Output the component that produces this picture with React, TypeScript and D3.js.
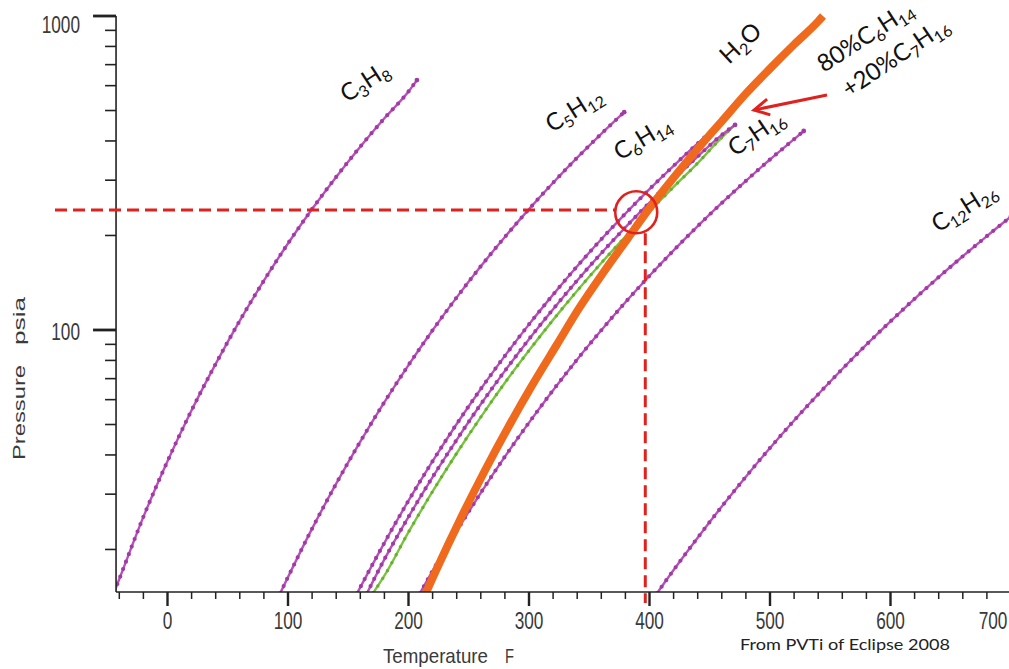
import React from 'react';
import * as d3 from 'd3';

const W = 1009;
const H = 669;

// ---- axis ticks ----
const tempMajorTicks = [0, 100, 200, 300, 400, 500, 600, 700];
const tempMinorTicks = [-40, -20, 20, 40, 60, 80, 120, 140, 160, 180, 220, 240, 260, 280, 320, 340, 360, 380, 420, 440, 460, 480, 520, 540, 560, 580, 620, 640, 660, 680];
const pressureMajorTicks = [100, 1000];
const pressureMinorTicks = [20, 30, 40, 50, 60, 70, 80, 90, 200, 300, 400, 500, 600, 700, 800, 900];

// ---- series: [Temperature F, Pressure psia] ----
const propane: [number, number][] = [
  [-44, 14.7], [-40, 16.1], [-20, 25.4], [0, 38.2], [20, 55.5], [40, 78.0], [60, 107.1], [80, 143.6],
  [100, 188.6], [120, 242.8], [140, 307.3], [160, 383.6], [180, 472.2], [200, 574.6], [207, 625],
];
const pentane: [number, number][] = [
  [93.5, 14.5], [120, 23.3], [140, 32.4], [160, 44.1], [180, 58.9], [200, 77.3], [220, 99.8], [240, 127],
  [260, 159.5], [280, 197.8], [300, 242.6], [320, 294.4], [340, 353.8], [360, 421.5], [379, 494],
];
const hexane: [number, number][] = [
  [157.3, 14.5], [180, 21.0], [200, 28.6], [220, 38.2], [240, 50.2], [260, 64.9], [280, 82.7], [300, 104.2],
  [320, 129.6], [340, 159.6], [360, 194.5], [380, 234.7], [400, 280.8], [420, 333.3], [440, 392.6], [453.7, 437],
];
const mixBubble: [number, number][] = [
  [165.5, 14.5], [180, 18.6], [200, 25.4], [220, 34.0], [240, 44.7], [260, 58.0], [280, 74.1], [300, 93.5],
  [320, 116.5], [340, 143.8], [360, 175.6], [380, 212.3], [400, 254.4], [420, 302.5], [440, 356.9], [460, 418.1], [471, 450],
];
const mixDew: [number, number][] = [
  [170.5, 14.5], [180, 16.5], [200, 22.7], [220, 30.6], [240, 40.5], [260, 52.8], [280, 67.9], [300, 86.0],
  [320, 107.7], [340, 133.4], [360, 163.5], [380, 198.3], [400, 238.5], [420, 285.5], [440, 340.0], [455, 392.0], [465, 428.0], [471, 450],
];
const heptane: [number, number][] = [
  [209.5, 14.5], [220, 17.1], [240, 22.9], [260, 30.3], [280, 39.5], [300, 50.7], [320, 64.3], [340, 80.6],
  [360, 99.8], [380, 122.5], [400, 148.8], [420, 179.2], [440, 214.1], [460, 253.8], [480, 298.6], [500, 349.1], [520, 405.3], [528, 430.2],
];
const dodecane: [number, number][] = [
  [406.2, 14.5], [420, 17.2], [440, 21.8], [460, 27.4], [480, 34.1], [500, 42.1], [520, 51.5], [540, 62.4],
  [560, 75.1], [580, 89.8], [600, 106.5], [620, 125.7], [640, 147.3], [660, 171.7], [680, 199.1], [700, 229.8],
];
const water: [number, number][] = [
  [213, 14.12], [215, 14.7], [223, 17.19], [243, 24.97], [263, 35.43], [283, 49.2], [303, 67.01], [323, 89.66],
  [342, 118.0], [362, 153.0], [382, 195.8], [401, 247.3], [421, 308.8], [441, 381.6], [461, 466.9], [480, 566.1],
  [500, 680.0], [520, 811.4], [540, 961.5], [544, 1000],
];

// annotation values
const crossT = 396.5;
const crossP = 241;
const circleT = 389;
const circleP = 237;

type Part = [string, boolean];
const labels: { parts: Part[]; x: number; y: number; a: number }[] = [
  { parts: [['C', false], ['3', true], ['H', false], ['8', true]], x: 347, y: 103, a: -33 },
  { parts: [['C', false], ['5', true], ['H', false], ['12', true]], x: 552, y: 133, a: -32 },
  { parts: [['C', false], ['6', true], ['H', false], ['14', true]], x: 620, y: 161, a: -31 },
  { parts: [['C', false], ['7', true], ['H', false], ['16', true]], x: 735, y: 157, a: -34 },
  { parts: [['H', false], ['2', true], ['O', false]], x: 729, y: 65, a: -43 },
  { parts: [['80%C', false], ['6', true], ['H', false], ['14', true]], x: 824, y: 73, a: -33 },
  { parts: [['+20%C', false], ['7', true], ['H', false], ['16', true]], x: 849, y: 98, a: -34 },
  { parts: [['C', false], ['12', true], ['H', false], ['26', true]], x: 938, y: 233, a: -32 },
];

const x = d3.scaleLinear().domain([0, 600]).range([167.5, 890.5]);
const y = d3.scaleLog().domain([14.64, 1000]).range([592, 16]);
const xMin = -42.7;
const plotLeft = x(xMin);
const plotRight = W;
const plotTop = y(1000);
const plotBottom = y(14.64);

const line = d3
  .line<[number, number]>()
  .x((d) => x(d[0]))
  .y((d) => y(d[1]))
  .curve(d3.curveMonotoneX);

const PURPLE = '#b651b8';
const PURPLE_DOT = '#a23aa6';
const GREEN = '#7cc243';
const ORANGE = '#f06a1e';
const RED = '#e0221e';
const TICK_FONT = "'Liberation Sans', Arial, sans-serif";
const LABEL_FONT = "Lato, 'Open Sans', sans-serif";

function Beaded({ data, color, dot, width = 2.4 }: { data: [number, number][]; color: string; dot: string; width?: number }) {
  const d = line(data) || '';
  const last = data[data.length - 1];
  return (
    <g>
      <path d={d} fill="none" stroke={color} strokeWidth={width} />
      <path d={d} fill="none" stroke={dot} strokeWidth={4.2} strokeDasharray="0 8" strokeLinecap="round" />
      <circle cx={x(last[0])} cy={y(last[1])} r={2.4} fill={dot} />
    </g>
  );
}

function Chem({ parts, x: px, y: py, a }: { parts: Part[]; x: number; y: number; a: number }) {
  let prevSub = false;
  return (
    <text transform={`translate(${px},${py}) rotate(${a})`} fontFamily={LABEL_FONT} fontSize={24} fill="#111">
      {parts.map(([s, sub], i) => {
        let dy = 0;
        if (sub && !prevSub) dy = 5;
        if (!sub && prevSub) dy = -5;
        prevSub = sub;
        return (
          <tspan key={i} dy={dy} fontSize={sub ? 16 : 24}>
            {s}
          </tspan>
        );
      })}
    </text>
  );
}

export default function App() {
  const yCross = y(crossP);
  const xCross = x(crossT);
  const cx = x(circleT);
  const cy = y(circleP);
  const r = 21;
  // arrow
  const tail: [number, number] = [827, 95];
  const tip: [number, number] = [754, 110];
  const dx = tip[0] - tail[0];
  const dyA = tip[1] - tail[1];
  const len = Math.hypot(dx, dyA);
  const ux = dx / len;
  const uy = dyA / len;
  const px = -uy;
  const py = ux;
  const hb = 15;
  const hw = 8;
  const b1 = [tip[0] - hb * ux + hw * px, tip[1] - hb * uy + hw * py];
  const b2 = [tip[0] - hb * ux - hw * px, tip[1] - hb * uy - hw * py];

  return (
    <svg
      width={W}
      height={H}
      viewBox={`0 0 ${W} ${H}`}
      style={{ position: 'absolute', left: 0, top: 0, background: '#fff' }}
    >
      <defs>
        <clipPath id="plot">
          <rect x={plotLeft} y={plotTop - 4} width={plotRight - plotLeft} height={plotBottom - plotTop + 4} />
        </clipPath>
      </defs>
      <rect x={0} y={0} width={W} height={H} fill="#fff" />

      {/* curves */}
      <g clipPath="url(#plot)">
        <Beaded data={propane} color={PURPLE} dot={PURPLE_DOT} />
        <Beaded data={pentane} color={PURPLE} dot={PURPLE_DOT} />
        <Beaded data={hexane} color={PURPLE} dot={PURPLE_DOT} />
        <path d={line(mixDew) || ''} fill="none" stroke={GREEN} strokeWidth={2.4} />
        <path d={line(mixDew) || ''} fill="none" stroke="#66b030" strokeWidth={3.4} strokeDasharray="0 9" strokeLinecap="round" />
        <Beaded data={mixBubble} color={PURPLE} dot={PURPLE_DOT} />
        <Beaded data={heptane} color={PURPLE} dot={PURPLE_DOT} />
        <Beaded data={dodecane} color={PURPLE} dot={PURPLE_DOT} />
        <path d={line(water) || ''} fill="none" stroke={ORANGE} strokeWidth={8} />
      </g>

      {/* axes */}
      <g stroke="#222" fill="none">
        <line x1={plotLeft} x2={plotLeft} y1={plotTop} y2={plotBottom} strokeWidth={1.6} />
        <line x1={plotLeft} x2={plotRight} y1={plotBottom} y2={plotBottom} strokeWidth={1.6} />
        {pressureMajorTicks.map((v) => (
          <line key={'pm' + v} x1={plotLeft - 23} x2={plotLeft} y1={y(v)} y2={y(v)} strokeWidth={2.8} />
        ))}
        {pressureMinorTicks.map((v) => (
          <line key={'pn' + v} x1={plotLeft - 11} x2={plotLeft} y1={y(v)} y2={y(v)} strokeWidth={1.6} />
        ))}
        {tempMajorTicks.map((v) => (
          <line key={'tm' + v} x1={x(v)} x2={x(v)} y1={plotBottom} y2={plotBottom + 14} strokeWidth={2.4} />
        ))}
        {tempMinorTicks.map((v) => (
          <line key={'tn' + v} x1={x(v)} x2={x(v)} y1={plotBottom} y2={plotBottom + 7} strokeWidth={1.5} />
        ))}
      </g>

      {/* tick labels */}
      <g fontFamily={TICK_FONT} fontSize={23} fill="#3a3a3a">
        {pressureMajorTicks.map((v) => (
          <text key={'pl' + v} transform={`translate(80,${y(v) + (v === 1000 ? 17 : 10)}) scale(0.75,1)`} textAnchor="end">
            {v}
          </text>
        ))}
        {tempMajorTicks.map((v) => (
          <text
            key={'tl' + v}
            transform={`translate(${Math.min(x(v), 993)},${plotBottom + 37}) scale(0.75,1)`}
            textAnchor="middle"
          >
            {v}
          </text>
        ))}
      </g>

      {/* axis titles */}
      <g fontFamily={TICK_FONT} fontSize={21} fill="#3a3a3a">
        <text x={383} y={663} textLength={105} lengthAdjust="spacingAndGlyphs">Temperature</text>
        <text x={505} y={663} textLength={9} lengthAdjust="spacingAndGlyphs">F</text>
      </g>
      <g fontFamily={TICK_FONT} fontSize={17} fill="#3a3a3a">
        <text transform="translate(25,460) rotate(-90)" textLength={95} lengthAdjust="spacingAndGlyphs">Pressure</text>
        <text transform="translate(25,345) rotate(-90)" textLength={48} lengthAdjust="spacingAndGlyphs">psia</text>
      </g>
      <text x={740} y={650} fontFamily={LABEL_FONT} fontSize={16} fill="#222" textLength={210} lengthAdjust="spacingAndGlyphs">
        From PVTi of Eclipse 2008
      </text>

      {/* annotations */}
      <g stroke={RED} fill="none">
        <line x1={55} x2={cx - r} y1={yCross} y2={yCross} strokeWidth={3} strokeDasharray="12 6" />
        <line x1={xCross} x2={xCross} y1={cy + r} y2={plotBottom + 11} strokeWidth={3} strokeDasharray="12 6" />
        <circle cx={cx} cy={cy} r={r} strokeWidth={2.6} />
        <line x1={tail[0]} y1={tail[1]} x2={tip[0] - 3 * ux} y2={tip[1] - 3 * uy} strokeWidth={3} />
        <path d={`M${b1[0]},${b1[1]} L${tip[0]},${tip[1]} L${b2[0]},${b2[1]}`} strokeWidth={3} strokeLinejoin="miter" />
      </g>

      {/* compound labels */}
      {labels.map((l, i) => (
        <Chem key={i} parts={l.parts} x={l.x} y={l.y} a={l.a} />
      ))}
    </svg>
  );
}
